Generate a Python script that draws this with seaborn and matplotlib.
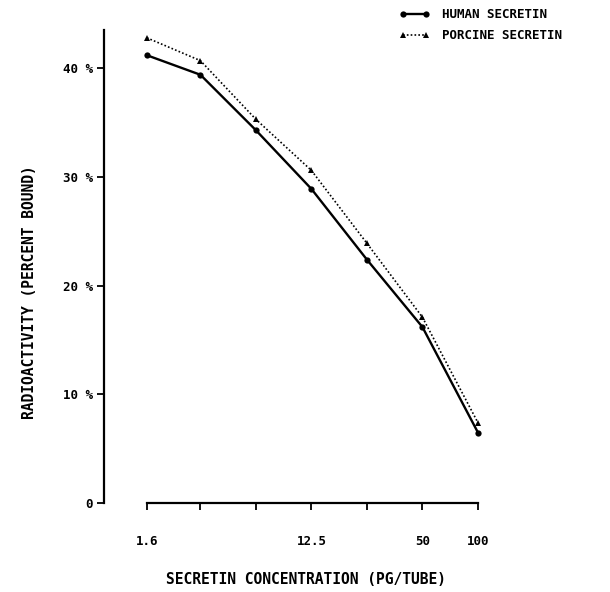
import matplotlib
matplotlib.use("Agg")
import matplotlib.pyplot as plt
import seaborn as sns
import pandas as pd

# ---- data ----
concentration = [1.6, 3.125, 6.25, 12.5, 25, 50, 100]
human_secretin = [41.2, 39.4, 34.3, 28.9, 22.4, 16.2, 6.5]
porcine_secretin = [42.8, 40.7, 35.3, 30.6, 23.9, 17.1, 7.4]
x_tick_labels = ["1.6", "", "", "12.5", "", "50", "100"]
y_ticks = [0, 10, 20, 30, 40]
y_tick_labels = ["0", "10 %", "20 %", "30 %", "40 %"]

sns.set_style("ticks")
MONO = ["DejaVu Sans Mono", "DejaVu Sans"]
plt.rcParams["font.family"] = MONO
plt.rcParams["font.weight"] = "bold"
plt.rcParams["text.color"] = "black"

fig = plt.figure(figsize=(6.10, 5.92), dpi=100)
ax = fig.add_axes([0.170, 0.150, 0.633, 0.799])

df_h = pd.DataFrame({"x": concentration, "y": human_secretin})
df_p = pd.DataFrame({"x": concentration, "y": porcine_secretin})

sns.lineplot(data=df_h, x="x", y="y", ax=ax, color="black", linewidth=1.7,
             marker="o", markersize=4.5, markeredgewidth=0,
             label="HUMAN SECRETIN", clip_on=False)
sns.lineplot(data=df_p, x="x", y="y", ax=ax, color="black", linewidth=1.2,
             linestyle=(0, (1, 1.3)), marker="^", markersize=5, markeredgewidth=0,
             label="PORCINE SECRETIN", clip_on=False)

ax.set_xscale("log")
ax.set_xlim(0.934, 116)
ax.set_ylim(0, 43.5)
ax.set_xticks(concentration)
ax.set_xticklabels(x_tick_labels)
ax.minorticks_off()
ax.set_yticks(y_ticks)
ax.set_yticklabels(y_tick_labels)

ax.tick_params(axis="x", direction="out", length=5, width=1.3, pad=18,
               labelsize=9, colors="black")
ax.tick_params(axis="y", direction="out", length=5, width=1.3, pad=3,
               labelsize=9, colors="black")
for lab in ax.get_xticklabels() + ax.get_yticklabels():
    lab.set_fontweight("bold")
    lab.set_family(MONO)

for side in ["top", "right"]:
    ax.spines[side].set_visible(False)
ax.spines["left"].set_linewidth(1.6)
ax.spines["bottom"].set_linewidth(1.6)
ax.spines["left"].set_color("black")
ax.spines["bottom"].set_color("black")
ax.spines["bottom"].set_bounds(1.6, 100)

ax.set_xlabel("")
ax.set_ylabel("")
fig.text(306 / 610, 1 - 580 / 592, "SECRETIN CONCENTRATION (PG/TUBE)",
         ha="center", va="center", fontsize=10.5, fontweight="bold",
         family=MONO, color="black")
fig.text(30 / 610, 1 - 292 / 592, "RADIOACTIVITY (PERCENT BOUND)",
         ha="center", va="center", rotation=90, fontsize=10.5, fontweight="bold",
         family=MONO, color="black")

leg = ax.legend(loc="upper left", bbox_to_anchor=(388 / 610, 1 + 3 / 592),
                bbox_transform=fig.transFigure, frameon=False, numpoints=2,
                handlelength=2.4, handletextpad=1.0, labelspacing=0.65,
                prop={"size": 9, "weight": "bold", "family": MONO})
for t in leg.get_texts():
    t.set_color("black")

fig.savefig("out.png", dpi=100, facecolor="white")
